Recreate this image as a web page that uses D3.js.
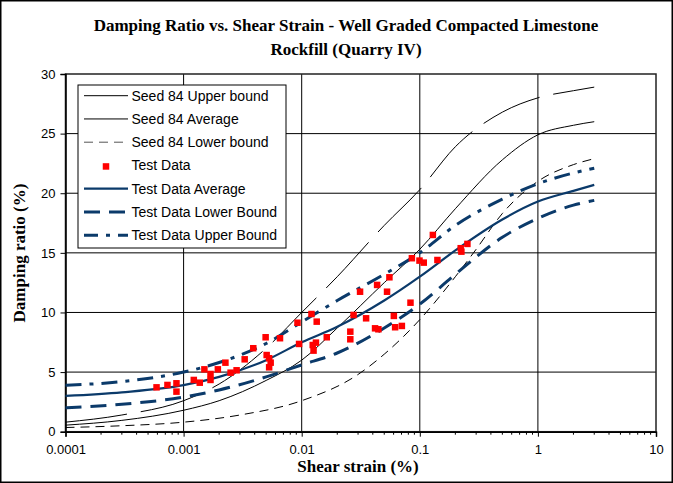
<!DOCTYPE html>
<html>
<head>
<meta charset="utf-8">
<script src="https://cdn.jsdelivr.net/npm/d3@7"></script>
<style>
html,body{margin:0;padding:0;background:#fff;}
svg{display:block;}
</style>
</head>
<body>
<svg id="chart" width="673" height="483"></svg>
<script>
// ---------- DATA ----------
const xTickValues = [0.0001, 0.001, 0.01, 0.1, 1, 10];
const xTickLabels = ["0.0001", "0.001", "0.01", "0.1", "1", "10"];
const yTickValues = [0, 5, 10, 15, 20, 25, 30];

// Seed 84 curves (strain %, damping %)
const seedUpperX = [0.0001, 0.0003, 0.001, 0.002, 0.005, 0.01, 0.02, 0.05, 0.1, 0.2, 0.5, 1, 2, 3];
const seedUpperY = [0.8, 1.4, 2.6, 4.0, 7.0, 10.0, 13.0, 17.3, 20.3, 23.9, 26.8, 28.0, 28.6, 28.9];
const seedAvgX = [0.0001, 0.0003, 0.001, 0.002, 0.005, 0.01, 0.02, 0.05, 0.1, 0.2, 0.5, 1, 2, 3];
const seedAvgY = [0.55, 0.95, 1.8, 2.6, 4.3, 6.0, 8.7, 12.5, 15.3, 18.7, 22.8, 24.9, 25.7, 26.0];
const seedLowerX = [0.0001, 0.0003, 0.001, 0.003, 0.01, 0.03, 0.05, 0.1, 0.2, 0.3, 0.5, 1, 2, 3];
const seedLowerY = [0.35, 0.5, 0.8, 1.4, 2.6, 4.8, 6.5, 9.4, 13.0, 15.3, 18.3, 21.0, 22.4, 22.9];

// Test data curves
const testAvgX = [0.0001, 0.0003, 0.001, 0.002, 0.005, 0.01, 0.02, 0.05, 0.1, 0.2, 0.5, 1, 2, 3];
const testAvgY = [3.0, 3.3, 3.9, 4.6, 6.0, 7.5, 8.8, 11.0, 13.0, 15.2, 17.8, 19.3, 20.2, 20.7];
const testLowerX = [0.0001, 0.0003, 0.001, 0.002, 0.005, 0.01, 0.02, 0.05, 0.1, 0.2, 0.5, 1, 2, 3];
const testLowerY = [2.0, 2.3, 2.9, 3.5, 4.6, 5.6, 6.6, 8.7, 10.7, 13.2, 16.3, 17.9, 19.0, 19.4];
const testUpperX = [0.0001, 0.0003, 0.001, 0.002, 0.005, 0.01, 0.02, 0.05, 0.1, 0.2, 0.5, 1, 2, 3];
const testUpperY = [3.9, 4.2, 5.0, 5.8, 7.4, 9.2, 11.0, 13.2, 15.0, 17.3, 19.5, 20.8, 21.7, 22.1];

// Test data points
const testX = [0.00059, 0.00073, 0.00087, 0.00087, 0.00122, 0.00137, 0.0015, 0.00169, 0.00169, 0.00195,
  0.00226, 0.0025, 0.00281, 0.00329, 0.00389, 0.00495, 0.00505, 0.0053, 0.00546, 0.0053,
  0.00655, 0.00921, 0.0095, 0.0121, 0.0134, 0.0124, 0.0126, 0.0132, 0.0163, 0.0258,
  0.0258, 0.0275, 0.0312, 0.0351, 0.0418, 0.0446, 0.0435, 0.0528, 0.0553, 0.0603,
  0.0618, 0.0705, 0.0834, 0.0857, 0.0994, 0.108, 0.129, 0.141, 0.222, 0.225, 0.253];
const testY = [3.72, 3.92, 4.06, 3.36, 4.34, 4.11, 5.23, 4.84, 4.34, 5.23,
  5.79, 4.95, 5.15, 6.07, 7.0, 7.92, 6.43, 6.16, 5.79, 5.40,
  7.84, 9.14, 7.36, 9.87, 9.23, 7.27, 6.80, 7.47, 7.92, 8.39,
  7.75, 9.79, 11.74, 9.51, 8.67, 8.59, 12.31, 11.74, 12.95, 9.71,
  8.76, 8.87, 10.82, 14.55, 14.35, 14.18, 16.5, 14.4, 15.39, 15.1, 15.75];

const legendLabels = ["Seed 84 Upper bound", "Seed 84 Average", "Seed 84 Lower bound", "Test Data",
  "Test Data Average", "Test Data Lower Bound", "Test Data Upper Bound"];

// ---------- DRAW ----------
const svg = d3.select("#chart");
const NAVY = "#0b3a6a";
const x = d3.scaleLog().domain([0.0001, 10]).range([65.5, 656]);
const y = d3.scaleLinear().domain([0, 30]).range([431.7, 74]);

// outer border
svg.append("rect").attr("x", 0.75).attr("y", 0.75).attr("width", 671.5).attr("height", 481.5)
  .attr("fill", "#fff").attr("stroke", "#000").attr("stroke-width", 1.5);

// gridlines
const grid = svg.append("g");
grid.selectAll("line.h").data(yTickValues.filter(v => v > 0 && v < 30)).join("line")
  .attr("x1", x(0.0001)).attr("x2", x(10)).attr("y1", d => y(d)).attr("y2", d => y(d))
  .attr("stroke", "#000").attr("stroke-width", 1);
grid.selectAll("line.v").data(xTickValues.filter(v => v > 0.0001 && v < 10)).join("line")
  .attr("x1", d => x(d)).attr("x2", d => x(d)).attr("y1", y(0)).attr("y2", y(30))
  .attr("stroke", "#000").attr("stroke-width", 1);

// plot frame
svg.append("rect").attr("x", x(0.0001)).attr("y", y(30)).attr("width", x(10) - x(0.0001))
  .attr("height", y(0) - y(30)).attr("fill", "none").attr("stroke", "#222").attr("stroke-width", 1.5);

// axes
const xAxis = d3.axisBottom(x).tickValues(xTickValues).tickFormat((d, i) => xTickLabels[i]).tickSize(5).tickPadding(8);
const gx = svg.append("g").attr("transform", `translate(0,${y(0)})`).call(xAxis);
gx.select(".domain").attr("stroke", "#000").attr("stroke-width", 1.5);
gx.selectAll("text").attr("font-family", "Arial, 'Liberation Sans', sans-serif").attr("font-size", 13).attr("fill", "#000");
// minor ticks
const minor = [];
for (let e = -4; e < 1; e++) for (let k = 2; k <= 9; k++) minor.push(k * Math.pow(10, e));
gx.selectAll("line.minor").data(minor).join("line").attr("class", "minor")
  .attr("x1", d => x(d)).attr("x2", d => x(d)).attr("y1", 0).attr("y2", 3).attr("stroke", "#000");

const yAxis = d3.axisLeft(y).tickValues(yTickValues).tickSize(5).tickPadding(5);
const gy = svg.append("g").attr("transform", `translate(${x(0.0001)},0)`).call(yAxis);
gy.select(".domain").attr("stroke", "#000").attr("stroke-width", 1.5);
gy.selectAll("text").attr("font-family", "Arial, 'Liberation Sans', sans-serif").attr("font-size", 13).attr("fill", "#000");

// curves
const line = d3.line().x(d => x(d[0])).y(d => y(d[1])).curve(d3.curveMonotoneX);
const zip = (a, b) => a.map((v, i) => [v, b[i]]);
const series = [
  {xs: seedUpperX, ys: seedUpperY, color: "#000", w: 1, dash: "62,14"},
  {xs: seedAvgX, ys: seedAvgY, color: "#000", w: 1, dash: null},
  {xs: seedLowerX, ys: seedLowerY, color: "#000", w: 1, dash: "9,6"},
  {xs: testAvgX, ys: testAvgY, color: NAVY, w: 2.2, dash: null},
  {xs: testLowerX, ys: testLowerY, color: NAVY, w: 3, dash: "16,9"},
  {xs: testUpperX, ys: testUpperY, color: NAVY, w: 3, dash: "16,8,4,8"}
];
series.forEach(s => {
  svg.append("path").attr("d", line(zip(s.xs, s.ys))).attr("fill", "none")
    .attr("stroke", s.color).attr("stroke-width", s.w).attr("stroke-dasharray", s.dash);
});

// points
const sq = 6.5;
svg.append("g").selectAll("rect").data(zip(testX, testY)).join("rect")
  .attr("x", d => x(d[0]) - sq / 2).attr("y", d => y(d[1]) - sq / 2)
  .attr("width", sq).attr("height", sq).attr("fill", "#ff0000");

// legend
const lg = svg.append("g");
lg.append("rect").attr("x", 78).attr("y", 85).attr("width", 208).attr("height", 163)
  .attr("fill", "#fff").attr("stroke", "#000").attr("stroke-width", 1);
const legStyles = [
  {type: "line", color: "#000", w: 1, dash: null},
  {type: "line", color: "#000", w: 1, dash: null},
  {type: "line", color: "#555", w: 1, dash: "9,6"},
  {type: "marker"},
  {type: "line", color: NAVY, w: 2.2, dash: null},
  {type: "line", color: NAVY, w: 3, dash: "16,9"},
  {type: "line", color: NAVY, w: 3, dash: "14,8,4,8"}
];
legendLabels.forEach((lab, i) => {
  const cy = 95.7 + i * 23.25;
  const st = legStyles[i];
  if (st.type === "line") {
    lg.append("line").attr("x1", 84).attr("x2", 128).attr("y1", cy).attr("y2", cy)
      .attr("stroke", st.color).attr("stroke-width", st.w).attr("stroke-dasharray", st.dash);
  } else {
    lg.append("rect").attr("x", 106 - sq / 2).attr("y", cy - sq / 2 + 1).attr("width", sq).attr("height", sq).attr("fill", "#ff0000");
  }
  lg.append("text").attr("x", 131.5).attr("y", cy).attr("dy", "0.35em")
    .attr("font-family", "Arial, 'Liberation Sans', sans-serif").attr("font-size", 14).attr("fill", "#000")
    .text(lab);
});

// titles
const serif = "'Times New Roman', 'Liberation Serif', serif";
svg.append("text").attr("x", 346).attr("y", 31).attr("text-anchor", "middle")
  .attr("font-family", serif).attr("font-weight", "bold").attr("font-size", 17)
  .text("Damping Ratio vs. Shear Strain - Well Graded Compacted Limestone");
svg.append("text").attr("x", 346).attr("y", 55).attr("text-anchor", "middle")
  .attr("font-family", serif).attr("font-weight", "bold").attr("font-size", 17)
  .text("Rockfill (Quarry IV)");
svg.append("text").attr("x", 358).attr("y", 472).attr("text-anchor", "middle")
  .attr("font-family", serif).attr("font-weight", "bold").attr("font-size", 17)
  .text("Shear strain (%)");
svg.append("text").attr("transform", `translate(25,253) rotate(-90)`).attr("text-anchor", "middle")
  .attr("font-family", serif).attr("font-weight", "bold").attr("font-size", 17)
  .text("Damping ratio (%)");
</script>
</body>
</html>
